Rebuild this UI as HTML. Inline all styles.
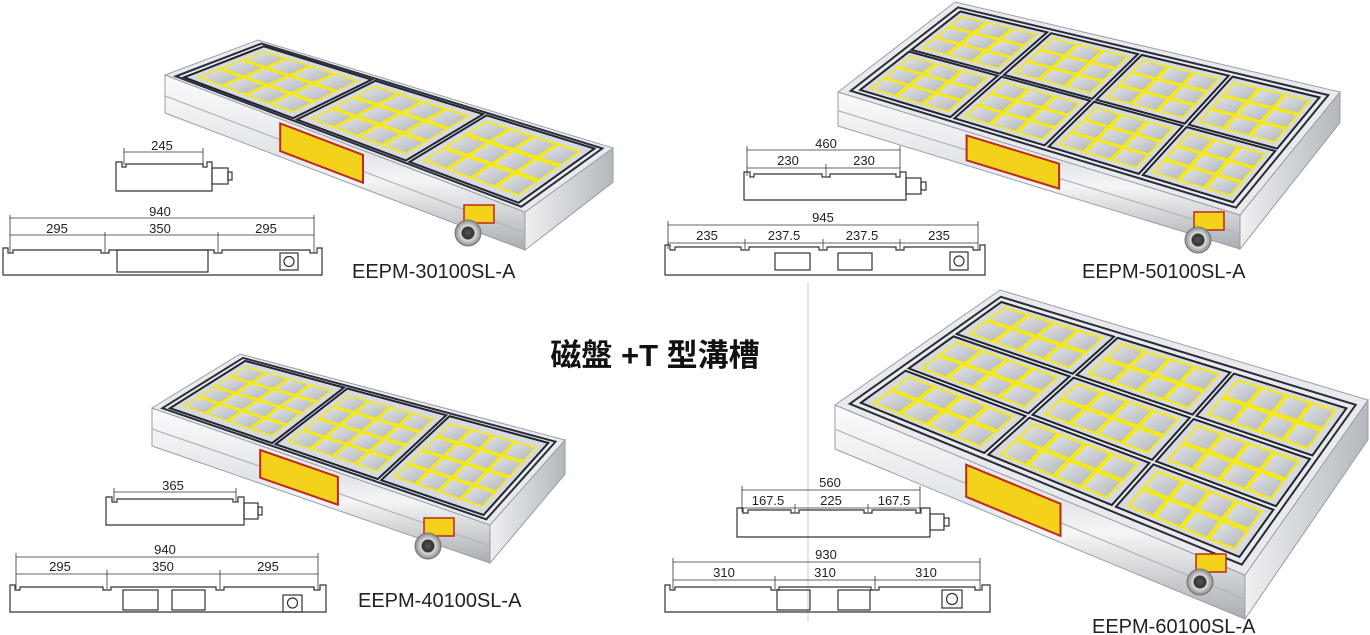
<!DOCTYPE html>
<html><head><meta charset="utf-8">
<style>
html,body{margin:0;padding:0;background:#fff;}
#wrap{position:relative;width:1370px;height:635px;overflow:hidden;background:#fff;}
svg{position:absolute;left:0;top:0;}
text{font-family:"Liberation Sans",Arial,sans-serif;fill:#222;}
.d{font-size:13px;}
.lb{font-size:20px;}
.ttl{font-family:"Liberation Sans","Noto Sans CJK TC",sans-serif;font-size:31px;font-weight:bold;fill:#111;}
</style></head>
<body><div id="wrap">
<svg id="chucks" width="1370" height="635" viewBox="0 0 1370 635">
<defs>
<linearGradient id="side" x1="0" y1="0" x2="0" y2="1"><stop offset="0" stop-color="#fafbfc"/><stop offset="0.45" stop-color="#e2e5e8"/><stop offset="0.6" stop-color="#f4f5f6"/><stop offset="1" stop-color="#a9adb2"/></linearGradient>
<linearGradient id="side2" x1="0" y1="0" x2="1" y2="0"><stop offset="0" stop-color="#eef0f2"/><stop offset="1" stop-color="#b4b8bd"/></linearGradient>
<linearGradient id="cell" x1="0" y1="0" x2="1" y2="1"><stop offset="0" stop-color="#e2e4e8"/><stop offset="1" stop-color="#b2b6bc"/></linearGradient>
<radialGradient id="conn"><stop offset="0" stop-color="#555"/><stop offset="0.45" stop-color="#333"/><stop offset="0.55" stop-color="#ddd"/><stop offset="1" stop-color="#888"/></radialGradient>
</defs>
<g id="cg"></g>
<line x1="808" y1="282" x2="808" y2="622" stroke="#ccc" stroke-width="1"/>
</svg>
<svg width="1370" height="635" viewBox="0 0 1370 635" fill="none" stroke="#333" stroke-width="1.2">
<path d="M116 191 V162 H122 V167 H126 V164 H203 V167 H207 V162 H212 V191 Z"/>
<rect x="212" y="168" width="16" height="16"/><rect x="228" y="172" width="4" height="8"/>
<path d="M124 152 H203 M124 148 V165 M203 148 V165" stroke-width="0.8"/>
<path d="M3 275 V248 H8 V253 H13 V250 H101 V253 H109 V250 H214 V253 H222 V250 H310 V253 H317 V248 H322 V275 Z"/>
<rect x="117" y="250" width="91" height="22"/><rect x="280" y="253" width="18" height="17"/><circle cx="289" cy="261.5" r="5"/>
<path d="M10 218 H314 M10 235 H314 M10 215 V252 M314 215 V252 M105 232 V252 M218 232 V252" stroke-width="0.8"/>
<path d="M744 200 V172 H750 V177 H754 V174 H822 V177 H830 V174 H896 V177 H900 V172 H906 V200 Z"/>
<rect x="906" y="178" width="15" height="16"/><rect x="921" y="182" width="5" height="8"/>
<path d="M747 150 H900 M747 168 H900 M747 146 V176 M900 146 V176 M826 164 V176" stroke-width="0.8"/>
<path d="M665 275 V245 H670 V250 H675 V247 H741 V250 H749 V247 H819 V250 H827 V247 H896 V250 H904 V247 H973 V250 H980 V245 H985 V275 Z"/>
<rect x="775" y="253" width="35" height="17"/><rect x="838" y="253" width="34" height="17"/><rect x="950" y="252" width="18" height="18"/><circle cx="959" cy="261" r="5"/>
<path d="M668 225 H978 M668 243 H978 M668 221 V249 M978 221 V249 M745 239 V249 M823 239 V249 M900 239 V249" stroke-width="0.8"/>
<path d="M106 525 V497 H112 V502 H117 V499 H233 V502 H238 V497 H244 V525 Z"/>
<rect x="244" y="503" width="14" height="16"/><rect x="258" y="507" width="4" height="8"/>
<path d="M114 492 H236 M114 488 V501 M236 488 V501" stroke-width="0.8"/>
<path d="M10 612 V585 H15 V590 H20 V587 H103 V590 H111 V587 H216 V590 H224 V587 H314 V590 H320 V585 H326 V612 Z"/>
<rect x="123" y="590" width="35" height="20"/><rect x="172" y="590" width="33" height="20"/><rect x="283" y="595" width="19" height="17"/><circle cx="292.5" cy="603" r="5"/>
<path d="M16 557 H318 M16 574 H318 M16 553 V589 M318 553 V589 M107 570 V589 M220 570 V589" stroke-width="0.8"/>
<path d="M737 537 V508 H743 V513 H748 V510 H791 V513 H799 V510 H864 V513 H872 V510 H916 V513 H921 V508 H930 V537 Z"/>
<rect x="930" y="514" width="14" height="16"/><rect x="944" y="518" width="5" height="8"/>
<path d="M742 490 H920 M742 508 H920 M742 486 V512 M920 486 V512 M795 504 V512 M868 504 V512" stroke-width="0.8"/>
<path d="M665 612 V585 H670 V590 H675 V587 H771 V590 H779 V587 H871 V590 H879 V587 H975 V590 H982 V585 H990 V612 Z"/>
<rect x="777" y="590" width="33" height="20"/><rect x="838" y="590" width="32" height="20"/><rect x="942" y="590" width="20" height="18"/><circle cx="952" cy="599" r="5.5"/>
<path d="M673 562 H980 M673 580 H980 M673 558 V589 M980 558 V589 M775 576 V589 M875 576 V589" stroke-width="0.8"/>
</svg>
<svg width="1370" height="635" viewBox="0 0 1370 635">
<text class="d" x="162" y="150" text-anchor="middle">245</text>
<text class="d" x="160" y="216" text-anchor="middle">940</text>
<text class="d" x="57" y="233" text-anchor="middle">295</text>
<text class="d" x="160" y="233" text-anchor="middle">350</text>
<text class="d" x="266" y="233" text-anchor="middle">295</text>
<text class="d" x="826" y="148" text-anchor="middle">460</text>
<text class="d" x="788" y="165" text-anchor="middle">230</text>
<text class="d" x="864" y="165" text-anchor="middle">230</text>
<text class="d" x="823" y="222" text-anchor="middle">945</text>
<text class="d" x="707" y="240" text-anchor="middle">235</text>
<text class="d" x="784" y="240" text-anchor="middle">237.5</text>
<text class="d" x="862" y="240" text-anchor="middle">237.5</text>
<text class="d" x="939" y="240" text-anchor="middle">235</text>
<text class="d" x="173" y="490" text-anchor="middle">365</text>
<text class="d" x="165" y="554" text-anchor="middle">940</text>
<text class="d" x="60" y="571" text-anchor="middle">295</text>
<text class="d" x="163" y="571" text-anchor="middle">350</text>
<text class="d" x="268" y="571" text-anchor="middle">295</text>
<text class="d" x="830" y="487" text-anchor="middle">560</text>
<text class="d" x="768" y="505" text-anchor="middle">167.5</text>
<text class="d" x="831" y="505" text-anchor="middle">225</text>
<text class="d" x="894" y="505" text-anchor="middle">167.5</text>
<text class="d" x="826" y="559" text-anchor="middle">930</text>
<text class="d" x="724" y="577" text-anchor="middle">310</text>
<text class="d" x="825" y="577" text-anchor="middle">310</text>
<text class="d" x="926" y="577" text-anchor="middle">310</text>
<text class="lb" x="352" y="278">EEPM-30100SL-A</text>
<text class="lb" x="1082" y="278">EEPM-50100SL-A</text>
<text class="lb" x="358" y="607">EEPM-40100SL-A</text>
<text class="lb" x="1092" y="633">EEPM-60100SL-A</text>
<text class="ttl" x="655" y="366" text-anchor="middle">磁盤 +T 型溝槽</text>
</svg>
</div>
<script>
(function(){
var g=document.getElementById('cg'),NS='http://www.w3.org/2000/svg';
function el(n,a){var e=document.createElementNS(NS,n);for(var k in a)e.setAttribute(k,a[k]);g.appendChild(e);return e;}
function P(c,u,v){return[(1-u)*(1-v)*c.L[0]+u*(1-v)*c.F[0]+(1-u)*v*c.B[0]+u*v*c.R[0],(1-u)*(1-v)*c.L[1]+u*(1-v)*c.F[1]+(1-u)*v*c.B[1]+u*v*c.R[1]];}
function pts(a){return a.map(function(p){return p[0].toFixed(1)+','+p[1].toFixed(1)}).join(' ');}
function quad(c,u0,u1,v0,v1,at){at.points=pts([P(c,u0,v0),P(c,u1,v0),P(c,u1,v1),P(c,u0,v1)]);return el('polygon',at);}
function chuck(c,t,nu,nv,gc,gr,conn){
 var L=c.L,F=c.F,R=c.R;
 el('polygon',{points:pts([L,F,[F[0],F[1]+t],[L[0],L[1]+t]]),fill:'url(#side)',stroke:'#9a9ea4','stroke-width':1});
 el('polygon',{points:pts([F,R,[R[0],R[1]+t*0.9],[F[0],F[1]+t]]),fill:'url(#side2)',stroke:'#9a9ea4','stroke-width':1});
 el('line',{x1:L[0],y1:L[1]+t*0.55,x2:F[0],y2:F[1]+t*0.55,stroke:'#b0b4ba','stroke-width':1.2});
 el('polygon',{points:pts([c.L,c.F,c.R,c.B]),fill:'#e8eaed',stroke:'#9aa0a6','stroke-width':1});
 quad(c,0.02,0.98,0.04,0.96,{fill:'none',stroke:'#2a2e3a','stroke-width':2});
 var mu=0.03,mv=0.06,du=(1-2*mu)/nu,dv=(1-2*mv)/nv;
 for(var i=0;i<nu;i++)for(var j=0;j<nv;j++){
  var u0=mu+i*du+0.005,u1=mu+(i+1)*du-0.005,v0=mv+j*dv+0.01,v1=mv+(j+1)*dv-0.01;
  quad(c,u0,u1,v0,v1,{fill:'#d6d9dd',stroke:'#22252f','stroke-width':2});
  var pu=(u1-u0)*0.06,pv=(v1-v0)*0.08;
  var a0=u0+pu,a1=u1-pu,b0=v0+pv,b1=v1-pv;
  quad(c,a0,a1,b0,b1,{fill:'#f3e81a'});
  var cu=(a1-a0)/gc,cv=(b1-b0)/gr,gu=cu*0.08,gv=cv*0.1;
  for(var x=0;x<gc;x++)for(var y=0;y<gr;y++){
   quad(c,a0+x*cu+gu,a0+(x+1)*cu-gu,b0+y*cv+gv,b0+(y+1)*cv-gv,{fill:'url(#cell)'});
  }
 }
 var s0=P(c,0.32,0),s1=P(c,0.55,0);
 el('polygon',{points:pts([[s0[0],s0[1]+t*0.12],[s1[0],s1[1]+t*0.12],[s1[0],s1[1]+t*0.85],[s0[0],s0[1]+t*0.85]]),fill:'#f2d21a',stroke:'#c0281e','stroke-width':2});
 el('rect',{x:conn[0]-4,y:conn[1]-28,width:30,height:18,fill:'#f2d21a',stroke:'#c0281e','stroke-width':1.5,transform:'skewY(-15 '+conn[0]+' '+conn[1]+')'});
 el('circle',{cx:conn[0],cy:conn[1],r:13,fill:'url(#conn)',stroke:'#777','stroke-width':1});
}
chuck({L:[165,75],B:[258,40],R:[613,148],F:[525,212]},38,3,1,4,3,[468,233]);
chuck({L:[838,92],B:[955,2],R:[1340,92],F:[1240,215]},34,4,2,3,3,[1198,240]);
chuck({L:[152,408],B:[240,354],R:[565,440],F:[490,525]},38,3,1,4,4,[428,546]);
chuck({L:[835,405],B:[1000,290],R:[1368,400],F:[1245,575]},44,3,3,4,2,[1200,582]);
})();
</script>
</body></html>
